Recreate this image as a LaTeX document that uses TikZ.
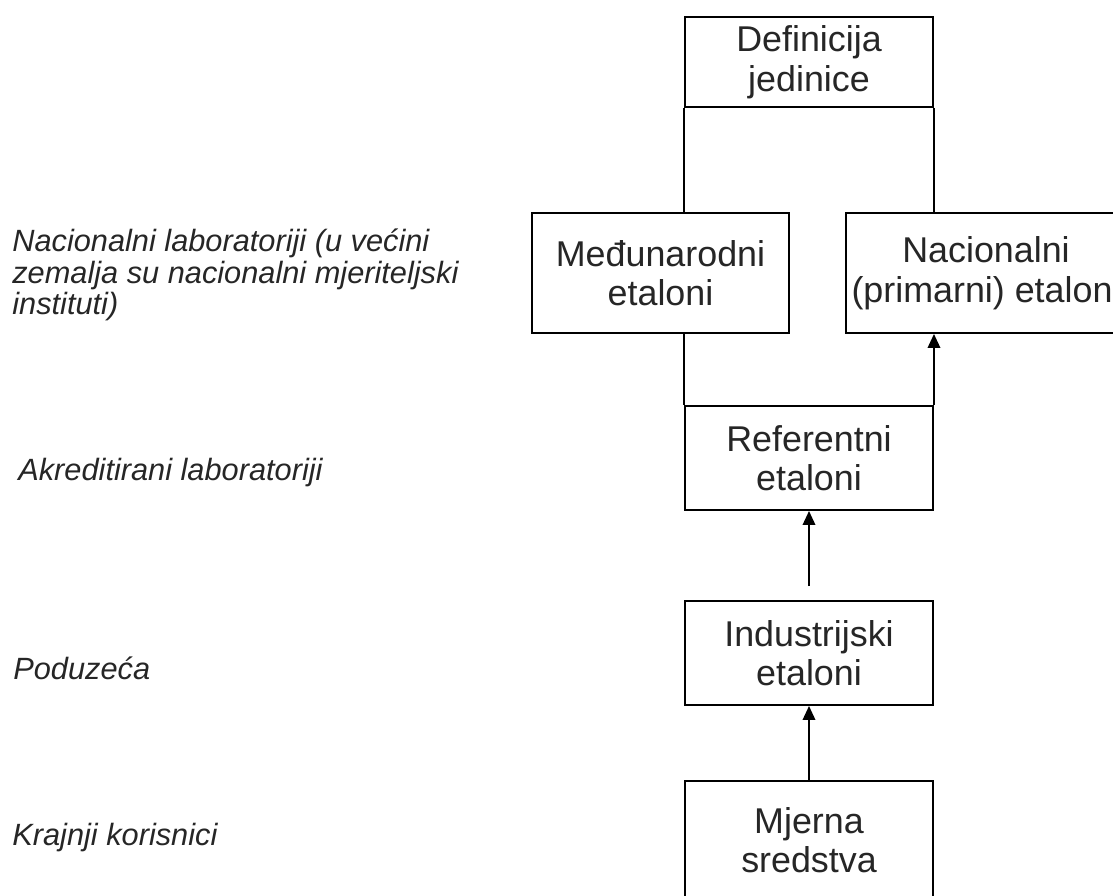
\documentclass[tikz,border=0pt]{standalone}
\usepackage{fontspec}
\setmainfont{Liberation Sans}
\usepackage{xcolor}
\usepackage{tikz}
\usetikzlibrary{arrows.meta}
\tikzstyle{box}=[fill=white, draw=black, shape=rectangle, line width=1.1pt, minimum width=4.96cm, minimum height=2.08cm, align=center, text=black!85, font=\fontsize{20.4}{22.5}\selectfont]
\tikzstyle{level label}=[anchor=west, align=left, inner sep=0pt, text=black!85, font=\fontsize{17.5}{17.9}\selectfont\itshape]
\tikzstyle{plain edge}=[-, line width=1.1pt]
\tikzstyle{arrow edge}=[-{Triangle[length=0.28cm, width=0.25cm]}, line width=1.1pt]
\pgfdeclarelayer{nodelayer}
\pgfdeclarelayer{edgelayer}
\pgfsetlayers{edgelayer,nodelayer,main}

\begin{document}
\begin{tikzpicture}
        	\useasboundingbox (0, 0) rectangle (22.26, -17.9);
        	\begin{pgfonlayer}{nodelayer}
        		\node [style=box, minimum height=1.8cm] (0) at (16.18, -1.24) {Definicija\\jedinice};
        		\node [style=box, minimum width=5.14cm, minimum height=2.4cm] (1) at (13.21, -5.46) {Međunarodni\\etaloni};
        		\node [style=box, minimum width=5.46cm, minimum height=2.4cm] (2) at (19.72, -5.46) {Nacionalni\\(primarni) etaloni};
        		\node [style=box] (3) at (16.18, -9.16) {Referentni\\etaloni};
        		\node [style=box] (4) at (16.18, -13.06) {Industrijski\\etaloni};
        		\node [style=box, minimum height=2.36cm] (5) at (16.18, -16.8) {Mjerna\\sredstva};
        		\node [style=level label] (6) at (0.24, -5.5) {Nacionalni laboratoriji (u većini\\zemalja su nacionalni mjeriteljski\\instituti)};
        		\node [style=level label] (7) at (0.36, -9.46) {Akreditirani laboratoriji};
        		\node [style=level label] (8) at (0.26, -13.36) {Poduzeća};
        		\node [style=level label] (9) at (0.24, -16.76) {Krajnji korisnici};
        	\end{pgfonlayer}
        	\begin{pgfonlayer}{edgelayer}
        		\draw [style=plain edge] (0.south west) to (0.south west |- 1.north);
        		\draw [style=plain edge] (0.south east) to (0.south east |- 2.north);
        		\draw [style=plain edge] (3.north west |- 1.south) to (3.north west);
        		\draw [style=arrow edge] (3.north east) to (3.north east |- 2.south);
        		\draw [style=arrow edge, shorten <=0.28cm] (4) to (3);
        		\draw [style=arrow edge] (5) to (4);
        	\end{pgfonlayer}
\end{tikzpicture}
\end{document}
